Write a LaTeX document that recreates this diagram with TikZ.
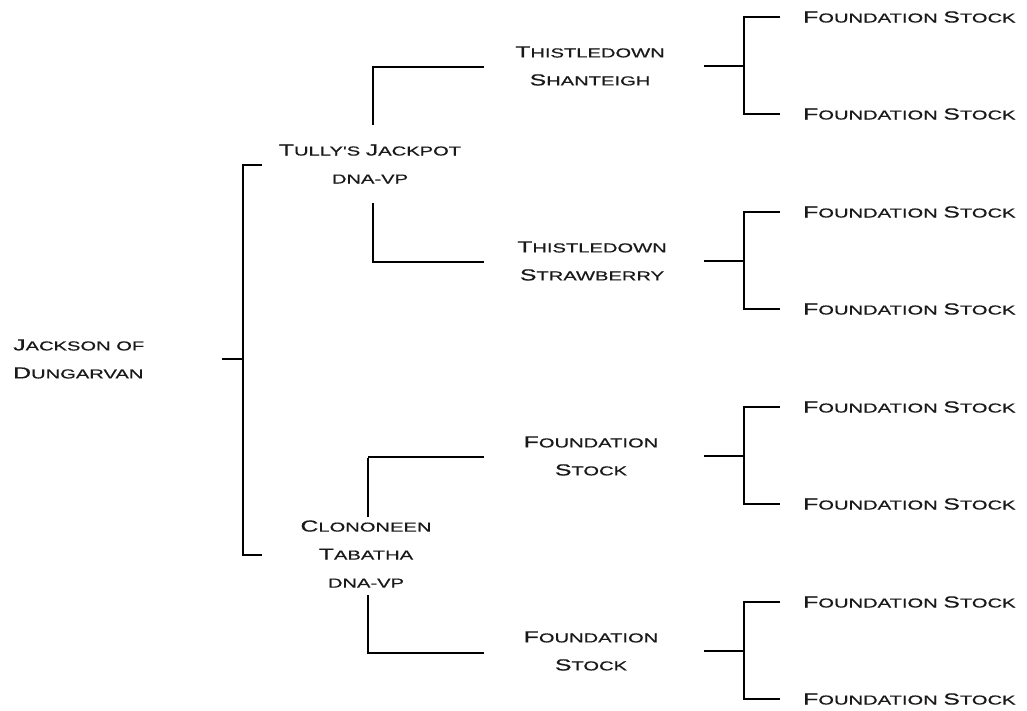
\documentclass[tikz,border=0pt]{standalone}
\usepackage{fontspec}
\newfontfamily\cpfont[FakeStretch=1.55,FakeBold=0.6]{Liberation Sans}
\newcommand\Bg[1]{{\fontsize{16}{28}\selectfont #1}}
\tikzset{
  lbl/.style={font=\cpfont\fontsize{13}{28}\selectfont, inner sep=0pt, align=center, text=black!90},
  thk/.style={line width=2.9pt, line join=miter},
  thn/.style={line width=1.4pt},
}
\begin{document}
\begin{tikzpicture}[x=1pt,y=-1pt]
\useasboundingbox (0,0) rectangle (1027,711);
% text nodes
\node[lbl, align=left, anchor=west] (jd) at (13,359) {\Bg{J}ACKSON OF\\\Bg{D}UNGARVAN};
\node[lbl] (tj) at (370,164) {\Bg{T}ULLY'S \Bg{J}ACKPOT\\DNA-VP};
\node[lbl] (ct) at (366,554) {\Bg{C}LONONEEN\\\Bg{T}ABATHA\\DNA-VP};
\node[lbl] (ts) at (590,66) {\Bg{T}HISTLEDOWN\\\Bg{S}HANTEIGH};
\node[lbl] (tw) at (592,261) {\Bg{T}HISTLEDOWN\\\Bg{S}TRAWBERRY};
\node[lbl] (fa) at (591,456) {\Bg{F}OUNDATION\\\Bg{S}TOCK};
\node[lbl] (fb) at (591,651) {\Bg{F}OUNDATION\\\Bg{S}TOCK};
% root bracket
\coordinate (j0) at (222,359);
\coordinate (j1) at (243,359);
\coordinate (jt) at (262,165);
\coordinate (jb) at (262,555);
\draw[thk] (j0) -- (j1);
\draw[thk] (jt) -| (j1) |- (jb);
% Tully's Jackpot
\coordinate (ta) at (373,125);
\coordinate (tb) at (373,67);
\coordinate (tc) at (484,67);
\coordinate (td) at (373,203);
\coordinate (te) at (373,262);
\coordinate (tf) at (484,262);
\draw[thn] (ta) -- (tb);
\draw[thk] ([xshift=-0.7pt]tb) -- (tc);
\draw[thn] (td) -- (te);
\draw[thk] ([xshift=-0.7pt]te) -- (tf);
% Clononeen Tabatha
\coordinate (ca) at (368,517);
\coordinate (cb) at (368,457);
\coordinate (cc) at (484,457);
\coordinate (cd) at (368,595);
\coordinate (ce) at (484,653);
\draw[thk] (ca) -- ([yshift=-0.7pt]cb);
\draw[thn] (cb) -- (cc);
\draw[thk] (cd) |- (ce);
% right brackets
\foreach \m/\i/\w in {66/1/2.9pt, 261/2/2.9pt, 456/3/1.4pt, 651/4/2.9pt} {
  \coordinate (st\i) at (704,\m);
  \coordinate (sp\i) at (744,\m);
  \coordinate (ua\i) at (780,\m-49);
  \coordinate (ub\i) at (780,\m+48);
  \draw[line width=\w] (st\i) -- (sp\i);
  \draw[thk] (ua\i) -| (sp\i) |- (ub\i);
  \node[lbl, anchor=west] (ra\i) at (803,\m-49) {\Bg{F}OUNDATION \Bg{S}TOCK};
  \node[lbl, anchor=west] (rb\i) at (803,\m+48) {\Bg{F}OUNDATION \Bg{S}TOCK};
}
\end{tikzpicture}
\end{document}
